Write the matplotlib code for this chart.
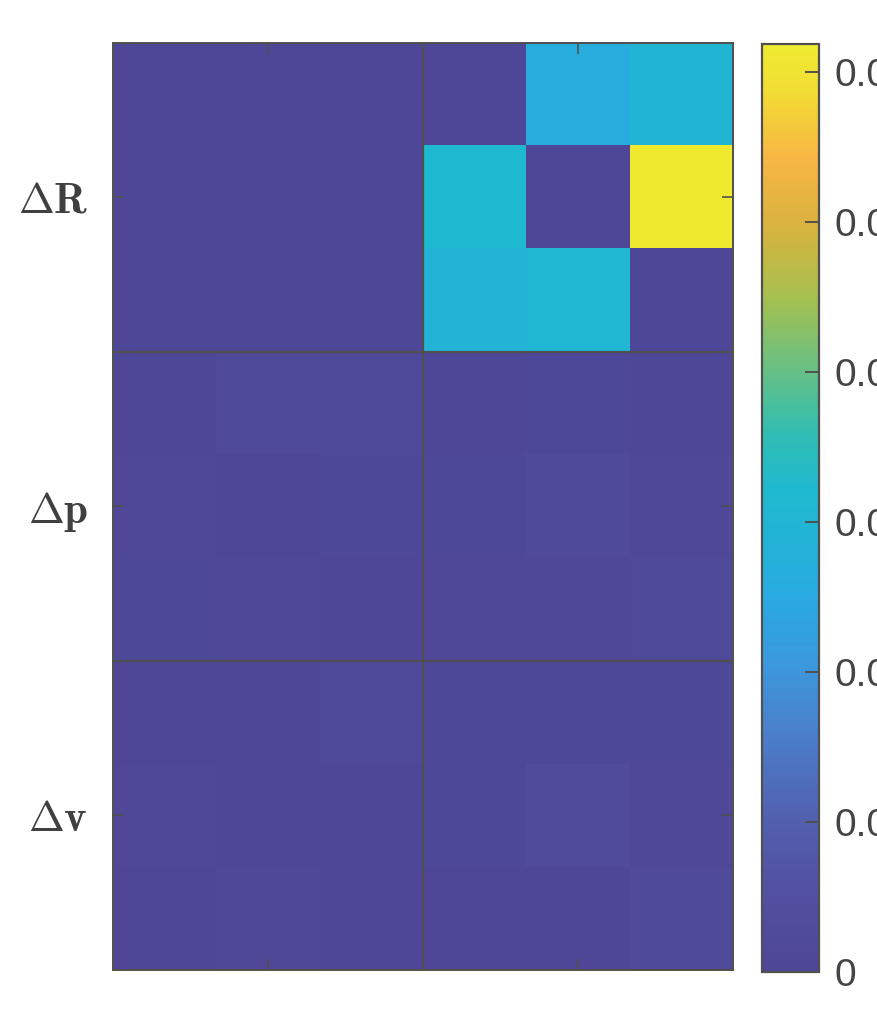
import numpy as np
import matplotlib.pyplot as plt
from matplotlib.colors import LinearSegmentedColormap

plt.rcParams['mathtext.fontset'] = 'cm'
plt.rcParams['font.family'] = ['Liberation Sans', 'DejaVu Sans']

# data: 9 rows (dR, dp, dv blocks of 3) x 6 columns (two blocks of 3)
row_labels = [r'$\Delta\mathbf{R}$', r'$\Delta\mathbf{p}$', r'$\Delta\mathbf{v}$']
col_labels = [r'$\Delta\mathbf{R}$', r'$\Delta\mathbf{p}$']
cbar_ticks = [0, 0.01, 0.02, 0.03, 0.04, 0.05, 0.06]
cbar_ticklabels = ['0', '0.01', '0.02', '0.03', '0.04', '0.05', '0.06']
vmax = 0.0619

values = np.array([
    [0.0004, 0.0004, 0.0004, 0.0012, 0.0262, 0.0305],
    [0.0004, 0.0004, 0.0004, 0.0315, 0.0012, 0.0612],
    [0.0004, 0.0004, 0.0004, 0.0288, 0.0308, 0.0012],
    [0.0004, 0.0018, 0.0018, 0.0004, 0.0013, 0.0003],
    [0.0015, 0.0003, 0.0013, 0.0013, 0.0023, 0.0015],
    [0.0013, 0.0015, 0.0003, 0.0015, 0.0015, 0.0020],
    [0.0004, 0.0004, 0.0018, 0.0013, 0.0013, 0.0013],
    [0.0016, 0.0004, 0.0004, 0.0013, 0.0027, 0.0015],
    [0.0004, 0.0016, 0.0004, 0.0004, 0.0003, 0.0022],
])

# parula-like map, tuned to the washed-out look of the reference
parula_like = LinearSegmentedColormap.from_list('parula_like', [
    (0.00, '#4e4696'),
    (0.10, '#5352a3'),
    (0.17, '#5162b0'),
    (0.26, '#4a80cc'),
    (0.33, '#3c98dc'),
    (0.41, '#28abe0'),
    (0.47, '#22b4d6'),
    (0.52, '#1fbad0'),
    (0.58, '#30bdb4'),
    (0.65, '#68c083'),
    (0.73, '#a8c04e'),
    (0.81, '#dcb23e'),
    (0.88, '#f8b744'),
    (0.95, '#f2dc34'),
    (1.00, '#efec30'),
])

grey = '#505050'
fig = plt.figure(figsize=(8.77, 10.13), dpi=100)
ax = fig.add_axes([113/877, 43/1013, 620/877, 927/1013])
img = ax.imshow(values, cmap=parula_like, vmin=0, vmax=vmax,
                interpolation='nearest', aspect='auto')

# block separators
ax.axvline(2.5, color=grey, lw=1.6)
for y in [2.5, 5.5]:
    ax.axhline(y, color=grey, lw=1.6)

ax.set_yticks([1, 4, 7])
ax.set_yticklabels(row_labels, fontsize=31, color='#404040')
ax.set_xticks([1, 4])
ax.set_xticklabels(col_labels, fontsize=31, color='#404040')
ax.tick_params(axis='both', direction='in', length=8, width=1.2, color=grey,
               top=True, right=True)
ax.tick_params(axis='y', pad=18)
ax.tick_params(axis='x', pad=32)
for s in ax.spines.values():
    s.set_color(grey)
    s.set_linewidth(1.4)

cax = fig.add_axes([762/877, 41/1013, 57/877, 928/1013])
cb = plt.colorbar(img, cax=cax, ticks=cbar_ticks)
cb.ax.set_yticklabels(cbar_ticklabels)
cb.ax.tick_params(direction='in', length=10, width=1.4, color=grey,
                  labelsize=28, labelcolor='#444444', pad=11)
cb.outline.set_edgecolor(grey)
cb.outline.set_linewidth(1.6)

fig.savefig('out.png', dpi=100)
